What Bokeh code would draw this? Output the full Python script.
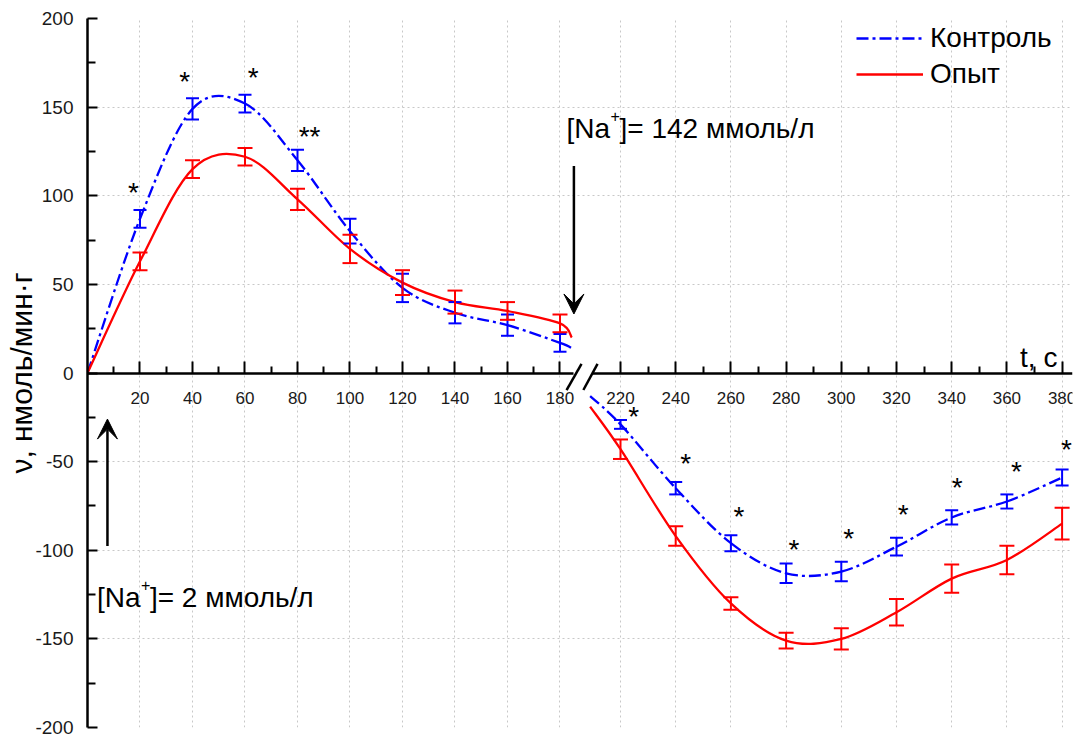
from bokeh.plotting import figure
from bokeh.models import (Range1d, LinearAxis, FixedTicker, Grid, Label, Arrow, VeeHead,
                          Legend, LegendItem, ColumnDataSource)
from bokeh.embed import file_html
from bokeh.resources import INLINE
from bokeh.core.properties import value

FONT = "Liberation Sans"
BLUE = "#0000ff"
RED = "#ff0000"

# ---------------- data ----------------
t_left = [20, 40, 60, 80, 100, 120, 140, 160, 180]
t_right = [220, 240, 260, 280, 300, 320, 340, 360, 380]

control_left = [87, 149, 152, 120, 80, 48, 34, 27, 17]
control_left_err = [5, 6, 5, 6, 7, 8, 6, 6, 5]
exp_left = [63, 115, 122, 98, 70, 51, 40, 35, 28]
exp_left_err = [5, 5, 5, 6, 8, 7, 6.5, 5, 5]

control_right = [-29, -65, -96, -113, -112, -98, -81.5, -72.5, -59]
control_right_err = [2.5, 3.5, 4.5, 5.5, 5.5, 5, 4, 4, 4.5]
exp_right = [-43, -92, -130, -151, -150, -135, -116, -105.5, -85]
exp_right_err = [5.5, 5.5, 3.5, 4.5, 6, 7.5, 8, 8, 9]

# where the fitted curves start / end beyond the measured points
left_curve_start = (0, 0, 0)          # t, control, experiment
left_curve_end = (184.5, 14, 20)
right_curve_start = (209, -13, -19)

# significance marks
star_left_t = [17.5, 37, 63.1, 84.6]
star_left_y = [102.7, 165.7, 167.6, 134.3]
star_left_text = ["*", "*", "*", "**"]
star_right_t = [224.8, 243.6, 262.9, 282.8, 302.7, 322.4, 342.0, 363.5, 381.6]
star_right_y = [-23.3, -50.2, -80.1, -98.6, -92.4, -78.8, -63.4, -54.4, -42.1]
star_right_text = ["*"] * 9

y_ticks = [-200, -150, -100, -50, 0, 50, 100, 150, 200]
y_minor = [-175, -125, -75, -25, 25, 75, 125, 175]
x_minor_left = [10, 30, 50, 70, 90, 110, 130, 150, 170]
x_minor_right = [230, 250, 270, 290, 310, 330, 350, 370]
y_grid = [-150, -100, -50, 50, 100, 150]

legend_labels = ["Контроль", "Опыт"]
y_label = "ν, нмоль/мин·г"
x_label = "t, c"

PX_PER_UNIT = 709 / 400.0   # vertical scale of the frame

# ---------------- figure ----------------
p = figure(width=1085, height=738, output_backend="svg", toolbar_location=None,
           x_axis_type=None, y_axis_type=None,
           x_range=Range1d(0, 375.24), y_range=Range1d(-200, 200),
           min_border_left=87, min_border_right=13, min_border_top=18, min_border_bottom=11)
p.outline_line_color = None
p.background_fill_color = "white"
p.extra_x_ranges = {"right": Range1d(26.88, 383.77)}

grid_kw = dict(grid_line_color="#c8c8c8", grid_line_dash="2 3", grid_line_width=1)
p.add_layout(Grid(dimension=0, ticker=FixedTicker(ticks=t_left), **grid_kw))
p.add_layout(Grid(dimension=0, ticker=FixedTicker(ticks=t_right), x_range_name="right", **grid_kw))
p.add_layout(Grid(dimension=1, ticker=FixedTicker(ticks=y_grid), **grid_kw))

axis_kw = dict(axis_line_width=2.5, axis_line_color="black",
               major_tick_line_width=2, minor_tick_line_width=2,
               major_tick_out=0, minor_tick_out=0,
               major_label_text_font=FONT, major_label_text_color="#1a1a1a")

yaxis = LinearAxis(ticker=FixedTicker(ticks=y_ticks, minor_ticks=y_minor),
                   major_tick_in=10, minor_tick_in=8, major_label_standoff=14,
                   major_label_text_font_size="19px",
                   major_label_overrides={v: str(v) for v in y_ticks},
                   axis_label=y_label, axis_label_text_font=FONT,
                   axis_label_text_font_size="30px", axis_label_text_font_style="normal",
                   axis_label_standoff=-6, axis_label_text_color="black",
                   **axis_kw)
p.add_layout(yaxis, "left")

xaxis_l = LinearAxis(fixed_location=0, bounds=(0, 185),
                     ticker=FixedTicker(ticks=t_left, minor_ticks=x_minor_left),
                     major_tick_in=12, minor_tick_in=7, major_label_standoff=19,
                     major_label_text_font_size="17px", **axis_kw)
p.add_layout(xaxis_l, "below")
xaxis_r = LinearAxis(fixed_location=0, bounds=(210, 383.77), x_range_name="right",
                     ticker=FixedTicker(ticks=t_right, minor_ticks=x_minor_right),
                     major_tick_in=12, minor_tick_in=7, major_label_standoff=19,
                     major_label_text_font_size="17px", **axis_kw)
p.add_layout(xaxis_r, "below")

# axis break marks
p.segment(x0=[182.5, 188.9], y0=[-9.6, -9.6], x1=[188.2, 194.3], y1=[5.1, 5.1],
          line_color="black", line_width=2.5)


def catmull_bezier(xs, ys):
    n = len(xs)
    d = {k: [] for k in ("x0", "y0", "x1", "y1", "cx0", "cy0", "cx1", "cy1")}
    for i in range(n - 1):
        ip = max(i - 1, 0)
        inx = min(i + 2, n - 1)
        d["x0"].append(xs[i]); d["y0"].append(ys[i])
        d["x1"].append(xs[i + 1]); d["y1"].append(ys[i + 1])
        d["cx0"].append(xs[i] + (xs[i + 1] - xs[ip]) / 6.0)
        d["cy0"].append(ys[i] + (ys[i + 1] - ys[ip]) / 6.0)
        d["cx1"].append(xs[i + 1] - (xs[inx] - xs[i]) / 6.0)
        d["cy1"].append(ys[i + 1] - (ys[inx] - ys[i]) / 6.0)
    return ColumnDataSource(d)


def curve(xs, ys, color, dash, rng):
    kw = dict(x0="x0", y0="y0", x1="x1", y1="y1", cx0="cx0", cy0="cy0", cx1="cx1", cy1="cy1",
              line_color=color, line_width=2.3, line_dash=dash)
    if rng:
        kw["x_range_name"] = rng
    return p.bezier(source=catmull_bezier(xs, ys), **kw)


def errorbars(ts, vals, errs, color, cap, rng):
    lo = [v - e for v, e in zip(vals, errs)]
    hi = [v + e for v, e in zip(vals, errs)]
    kw = {"x_range_name": rng} if rng else {}
    p.segment(x0=ts, y0=lo, x1=ts, y1=hi, line_color=color, line_width=2, **kw)
    p.scatter(x=ts + ts, y=lo + hi, marker="dash", size=cap, line_color=color,
              line_width=2, **kw)


DASH = "12 4 3 4"
# left part
r_c = curve([left_curve_start[0]] + t_left + [left_curve_end[0]],
            [left_curve_start[1]] + control_left + [left_curve_end[1]], BLUE, DASH, None)
r_e = curve([left_curve_start[0]] + t_left + [left_curve_end[0]],
            [left_curve_start[2]] + exp_left + [left_curve_end[2]], RED, "solid", None)
# right part
curve([right_curve_start[0]] + t_right, [right_curve_start[1]] + control_right, BLUE, DASH, "right")
curve([right_curve_start[0]] + t_right, [right_curve_start[2]] + exp_right, RED, "solid", "right")

errorbars(t_left, control_left, control_left_err, BLUE, 13, None)
errorbars(t_left, exp_left, exp_left_err, RED, 15, None)
errorbars(t_right, control_right, control_right_err, BLUE, 13, "right")
errorbars(t_right, exp_right, exp_right_err, RED, 15, "right")

# stars
STAR_SIZE = 28
star_drop = 2 / PX_PER_UNIT
p.text(x=star_left_t, y=[v - star_drop for v in star_left_y], text=star_left_text,
       text_font=value(FONT), text_font_size=f"{STAR_SIZE}px", text_align="center",
       text_baseline="alphabetic", text_color="black")
p.text(x=star_right_t, y=[v - star_drop for v in star_right_y], text=star_right_text,
       text_font=value(FONT), text_font_size=f"{STAR_SIZE}px", text_align="center",
       text_baseline="alphabetic", text_color="black", x_range_name="right")

# arrows
head = dict(size=20, fill_color="black", line_color="black")
p.add_layout(Arrow(end=VeeHead(**head), x_start=185.3, y_start=116.8, x_end=185.3, y_end=33.3,
                   line_width=2.5, line_color="black"))
p.add_layout(Arrow(end=VeeHead(**head), x_start=7.6, y_start=-97.6, x_end=7.6, y_end=-26,
                   line_width=2.5, line_color="black"))

LABEL_LIFT = 9 / PX_PER_UNIT


def na_label(x, y, rest):
    y = y + LABEL_LIFT
    base = dict(text_font=FONT, text_color="black", text_baseline="alphabetic")
    p.add_layout(Label(x=x, y=y, text="[Na", text_font_size="28px", **base))
    p.add_layout(Label(x=x, y=y + 7.2, x_offset=44, text="+", text_font_size="16px", **base))
    p.add_layout(Label(x=x, y=y, x_offset=53, text=rest, text_font_size="28px", **base))


na_label(182.5, 132.8, "]= 142 ммоль/л")
na_label(3.6, -132, "]= 2 ммоль/л")

p.add_layout(Label(x=369.5, y=8.5, text=x_label, text_font=FONT, text_font_size="28px",
                   text_align="right", text_baseline="middle", text_color="black"))

# legend
legend = Legend(items=[LegendItem(label=legend_labels[0], renderers=[r_c]),
                       LegendItem(label=legend_labels[1], renderers=[r_e])],
                location=(769, 636), padding=2, margin=0, spacing=2,
                glyph_width=67, glyph_height=34, label_height=34, label_standoff=7,
                label_text_font=FONT, label_text_font_size="28px", label_text_color="black",
                border_line_color=None, background_fill_alpha=0)
p.add_layout(legend)

open("out.html", "w").write(file_html(p, INLINE))
